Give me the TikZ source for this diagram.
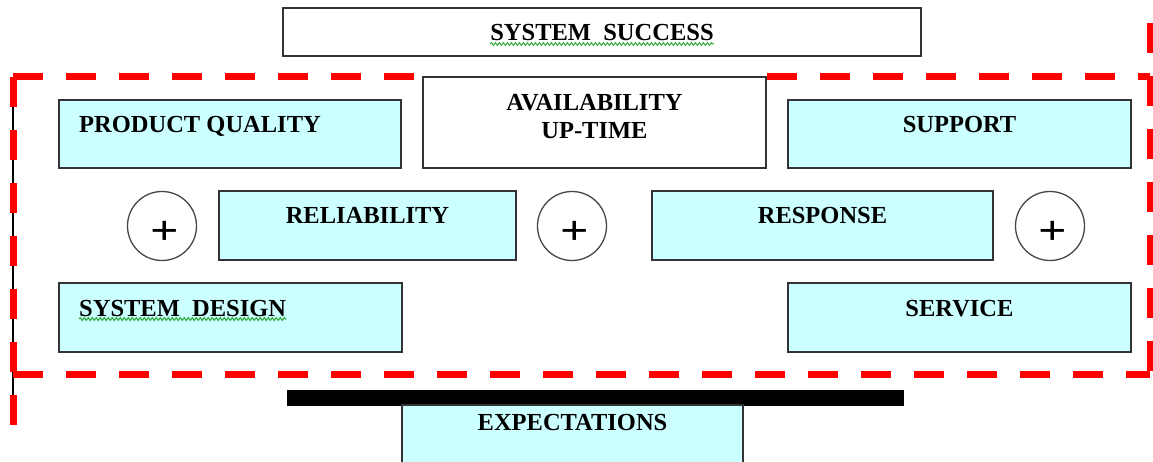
\documentclass[tikz,border=0pt]{standalone}
\usepackage{graphicx}
\usepackage{fontspec}
\setmainfont{Liberation Serif}
\usetikzlibrary{calc,decorations.pathmorphing}
\definecolor{boxcyan}{HTML}{CCFFFF}
\definecolor{edgegray}{HTML}{333333}
\definecolor{dashred}{HTML}{FF0000}
\definecolor{spellgreen}{HTML}{2EAA3A}
\tikzset{
  basebox/.style={rectangle, draw=edgegray, line width=1.6pt, inner sep=0pt, outer sep=0pt, anchor=north west},
  cbox/.style={basebox, fill=boxcyan},
  wbox/.style={basebox, fill=white},
  lbl/.style={inner sep=0pt, font=\fontsize{24.5}{28}\selectfont\bfseries},
  pluscirc/.style={circle, draw=edgegray!90, line width=1.3pt, minimum size=69pt, inner sep=0pt},
  plussign/.style={inner sep=0pt, font=\fontsize{50}{50}\selectfont\bfseries},
  reddash/.style={draw=dashred, line width=7pt, dash pattern=on 30pt off 23pt},
  spellmark/.style={draw=spellgreen, line width=1pt, decorate, decoration={snake, amplitude=1.4pt, segment length=4pt}}
}
\begin{document}
\begin{tikzpicture}[x=1pt,y=-1pt]
\useasboundingbox (0,0) rectangle (1153,462);
\clip (0,0) rectangle (1153,462);
\fill[white] (0,0) rectangle (1153,462);

% thin black line under the dashed left edge
\coordinate (lt) at (13,77);
\coordinate (lb) at (13,400);
\draw[black, line width=1.5pt] (lt) -- (lb);

% red dashed frame
\coordinate (tl) at (13,77);
\coordinate (tm) at (423,77);
\coordinate (ll) at (13,427);
\coordinate (bl) at (13,374);
\coordinate (br) at (1150,374);
\coordinate (rt) at (1150,23);
\coordinate (tr1) at (767,77);
\coordinate (tr2) at (1150,77);
\draw[reddash] (tl) -- (tm);
\draw[reddash] (tl) -- (ll);
\draw[reddash] (bl) -- (br);
\draw[reddash] (rt) -- (br);
\draw[reddash] (tr1) -- (tr2);

% boxes
\node[wbox, minimum width=638pt, minimum height=48pt] (succ) at (283,8) {};
\node[wbox, minimum width=343pt, minimum height=91pt] (avail) at (423,77) {};
\node[cbox, minimum width=342pt, minimum height=68pt] (pq) at (59,100) {};
\node[cbox, minimum width=343pt, minimum height=68pt] (sup) at (788,100) {};
\node[cbox, minimum width=297pt, minimum height=69pt] (rel) at (219,191) {};
\node[cbox, minimum width=341pt, minimum height=69pt] (resp) at (652,191) {};
\node[cbox, minimum width=343pt, minimum height=69pt] (sd) at (59,283) {};
\node[cbox, minimum width=343pt, minimum height=69pt] (serv) at (788,283) {};
\node[basebox, fill=black, draw=black, line width=0.8pt, minimum width=616pt, minimum height=15pt] (bar) at (287,390) {};
\node[cbox, minimum width=341pt, minimum height=90pt] (exp) at (402,405) {};

% circles with plus
\node[pluscirc] (c1) at (162,226) {};
\node[pluscirc] (c2) at (572,226) {};
\node[pluscirc] (c3) at (1050,226) {};
\node[plussign] (p1) at ($(c1)+(3,7)$) {\scalebox{1}[0.82]{+}};
\node[plussign] (p2) at ($(c2)+(3,7)$) {\scalebox{1}[0.82]{+}};
\node[plussign] (p3) at ($(c3)+(3,7)$) {\scalebox{1}[0.82]{+}};

% labels
\node[lbl, anchor=base] (succt) at ($(succ.north)+(0,33)$) {SYSTEM\ \ SUCCESS};
\node[lbl, anchor=base] (av1) at ($(avail.north)+(0,34)$) {AVAILABILITY};
\node[lbl, anchor=base] (av2) at ($(avail.north)+(0,62)$) {UP-TIME};
\node[lbl, anchor=base west] (pqt) at ($(pq.north west)+(20,33)$) {PRODUCT QUALITY};
\node[lbl, anchor=base] (supt) at ($(sup.north)+(0,33)$) {SUPPORT};
\node[lbl, anchor=base] (relt) at ($(rel.north)+(0,33)$) {RELIABILITY};
\node[lbl, anchor=base] (respt) at ($(resp.north)+(0,33)$) {RESPONSE};
\node[lbl, anchor=base west] (sdt) at ($(sd.north west)+(20,33)$) {SYSTEM\ \ DESIGN};
\node[lbl, anchor=base] (servt) at ($(serv.north)+(0,33)$) {SERVICE};
\node[lbl, anchor=base] (expt) at ($(exp.north)+(0,25)$) {EXPECTATIONS};

% spell-check squiggles
\draw[spellmark] ($(succt.base west)+(0,3)$) -- ($(succt.base east)+(0,3)$);
\draw[spellmark] ($(sdt.base west)+(0,3)$) -- ($(sdt.base east)+(0,3)$);
\end{tikzpicture}
\end{document}
